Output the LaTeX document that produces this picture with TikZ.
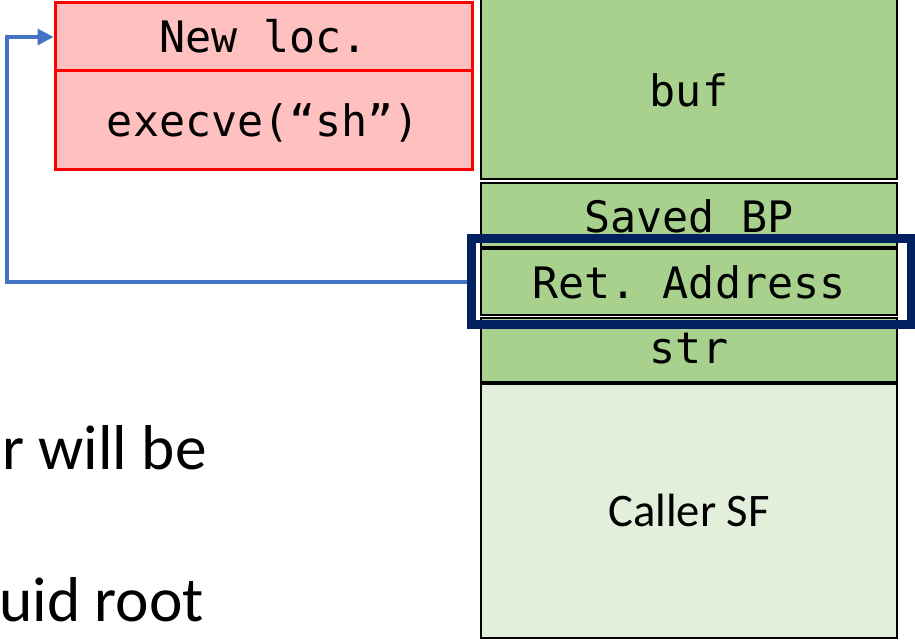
\documentclass[tikz,border=0pt]{standalone}
\usepackage{fontspec}
\setmonofont{DejaVu Sans Mono}
\setsansfont{Carlito}
\usetikzlibrary{arrows.meta}
\definecolor{stackgreen}{HTML}{A9D18E}
\definecolor{callergreen}{HTML}{E2EFDA}
\definecolor{shellpink}{HTML}{FFC0C0}
\definecolor{shellred}{HTML}{FF0000}
\definecolor{jumpblue}{HTML}{4472C4}
\definecolor{navy}{HTML}{002060}
\tikzset{
  cell/.style={draw=black, line width=1.5pt, fill=stackgreen, minimum width=312pt, inner sep=0pt},
  payload/.style={draw=shellred, line width=2.25pt, fill=shellpink, minimum width=312.75pt, inner sep=0pt},
  code/.style={font=\fontsize{32.5}{36}\selectfont\ttfamily, anchor=base, inner sep=0pt},
  prose/.style={font=\fontsize{47.5}{52}\selectfont\sffamily, anchor=base west, inner sep=0pt},
  jump/.style={draw=jumpblue, line width=2.4pt, -{Triangle[length=12pt,width=12pt]}},
}
\begin{document}
\begin{tikzpicture}[x=0.75pt, y=-0.75pt]
\useasboundingbox (0,0) rectangle (915,641);
\clip (0,0) rectangle (915,641);

% stack frame of the vulnerable function
\node[cell, minimum height=138pt] (buf) at (689,87) {};
\node[cell, minimum height=48pt] (saved) at (689,215) {};
\node[cell, minimum height=49.5pt] (ret) at (689,282) {};
\node[cell, minimum height=48pt] (str) at (689,350) {};
\node[cell, fill=callergreen, minimum height=190.5pt] (caller) at (689,511) {};

\node[code] (buftxt) at (689,107) {buf};
\node[code] (savedtxt) at (689,232.5) {Saved BP};
\node[code] (rettxt) at (689,299) {Ret. Address};
\node[code] (strtxt) at (689,364) {str};
\node[font=\fontsize{35}{40}\selectfont\sffamily, anchor=base, inner sep=0pt] (callertxt) at (689,527) {Caller SF};

% injected payload
\node[payload, minimum height=51pt] (newloc) at (263.5,37) {};
\node[payload, minimum height=74.25pt] (execve) at (263.5,120.5) {};
\node[code] (newloctxt) at (263.5,53) {New loc.};
\node[code] (execvetxt) at (263.5,137) {execve(“sh”)};

% overwritten return address highlight
\node[draw=navy, line width=6.75pt, minimum width=330pt, minimum height=64.5pt, inner sep=0pt] (hl) at (691.5,282) {};

% redirected control flow
\coordinate (bendlow) at (7,282);
\coordinate (bendhigh) at (7,37);
\draw[jump] (hl.west) -- (bendlow) -- (bendhigh) -- (newloc.west);

% slide text
\node[prose] (line1) at (2,470) {r will be};
\node[prose] (line2) at (-1,622) {uid root};
\end{tikzpicture}
\end{document}
